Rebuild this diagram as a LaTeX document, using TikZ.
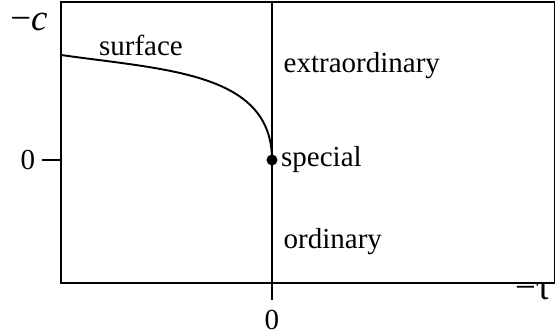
\documentclass[tikz,border=0pt]{standalone}
\usepackage{fontspec}
\setmainfont{Liberation Serif}
\usetikzlibrary{positioning}

\begin{document}
\begin{tikzpicture}[line width=1.1pt, font=\fontsize{16.5}{19}\selectfont,
    axlabel/.style={font=\fontsize{21}{24}\selectfont},
    phase/.style={anchor=west, inner sep=1pt}]
    \useasboundingbox (-5.44,-3.52) rectangle (5.66,3.2);
    \draw (-4.22,-2.46) rectangle (5.66,3.16);
    \coordinate (top) at (0,3.16);
    \coordinate (tickb) at (0,-2.8);
    \coordinate (tickl) at (-4.6,0);
    \coordinate (boxl) at (-4.22,0);
    \coordinate (sstart) at (-4.22,2.1);
    \node[circle, fill, inner sep=0pt, minimum size=0.22cm] (sp) at (0,0) {};
    \draw (top) -- (tickb);
    \draw (tickl) -- (boxl);
    \draw (sstart) .. controls (-2.1,1.8) and (0,1.75) .. (sp.center);
    \node[axlabel] (ylab) at (-4.86,2.76) {−\textit{c}};
    \node[axlabel] (xlab) at (5.22,-2.62) {−τ};
    \node[left=0pt of tickl] (yzero) {0};
    \node[below=2pt of tickb] (xzero) {0};
    \node (surf) at (-2.62,2.3) {surface};
    \node[phase] (extra) at (0.18,1.88) {extraordinary};
    \node[phase, right=0pt of sp] (spec) {special};
    \node[phase] (ord) at (0.18,-1.64) {ordinary};
\end{tikzpicture}
\end{document}
